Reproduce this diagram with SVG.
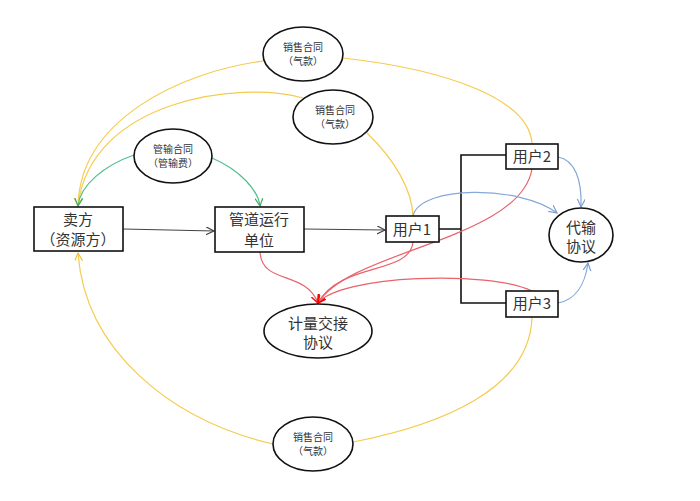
<svg xmlns="http://www.w3.org/2000/svg" width="700" height="501" viewBox="0 0 700 501">
<style>
.box{fill:#fff;stroke:#111;stroke-width:1.6}
.ell{fill:#fff;stroke:#111;stroke-width:1.6}
.t{font-family:"Noto Sans CJK SC","Liberation Sans",sans-serif;fill:#333;text-anchor:middle}
.big{font-size:15px}
.sm{font-size:10px}
.c{fill:none;stroke-width:1.2}
.y{stroke:#F5CB4E}
.g{stroke:#4DBE8C}
.r{stroke:#E8636B}
.b{stroke:#86A8D6}
.k{stroke:#444}
</style>
<defs>
<marker id="ak" markerWidth="10" markerHeight="10" refX="8" refY="4" orient="auto" markerUnits="userSpaceOnUse"><path d="M0,0 L8,4 L0,8" fill="none" stroke="#444" stroke-width="1.2"/></marker>
<marker id="ay" markerWidth="10" markerHeight="10" refX="8" refY="4" orient="auto" markerUnits="userSpaceOnUse"><path d="M0,0 L8,4 L0,8" fill="none" stroke="#F0C040" stroke-width="1.2"/></marker>
<marker id="ag" markerWidth="10" markerHeight="10" refX="8" refY="4" orient="auto" markerUnits="userSpaceOnUse"><path d="M0,0 L8,4 L0,8" fill="none" stroke="#3DB060" stroke-width="1.2"/></marker>
<marker id="ar" markerWidth="10" markerHeight="10" refX="8" refY="4" orient="auto" markerUnits="userSpaceOnUse"><path d="M0,0 L8,4 L0,8" fill="none" stroke="#F00" stroke-width="1.4"/></marker>
<marker id="ab" markerWidth="10" markerHeight="10" refX="8" refY="4" orient="auto" markerUnits="userSpaceOnUse"><path d="M0,0 L8,4 L0,8" fill="none" stroke="#7A9FD2" stroke-width="1.2"/></marker>
</defs>
<rect width="700" height="501" fill="#fff"/>
<g id="connectors">
<path class="c k" d="M123,229 L214,231" marker-end="url(#ak)"/>
<path class="c k" d="M304,229 L385,230" marker-end="url(#ak)"/>
<path fill="none" stroke="#111" stroke-width="1.6" d="M439,229 H461 M506,155 H461 V303 H506"/>
<path class="c y" d="M263,61 C180,72 80,120 78,206" marker-end="url(#ay)"/>
<path class="c y" d="M303,98 C240,80 90,100 78,206"/>
<path class="c y" d="M343,58 C450,70 530,100 532,144"/>
<path class="c y" d="M367,133 C395,160 412,190 413,216"/>
<path class="c y" d="M273,444 C170,420 85,350 78,253" marker-end="url(#ay)"/>
<path class="c y" d="M353,442 C440,425 530,390 532,317"/>
<path class="c g" d="M134,155 C105,165 80,185 78,206" marker-end="url(#ag)"/>
<path class="c g" d="M212,158 C240,170 258,190 260,206" marker-end="url(#ag)"/>
<path class="c r" d="M260,252 C262,285 305,270 318,303" marker-end="url(#ar)"/>
<path class="c r" d="M413,242 C410,275 340,262 318,303" marker-end="url(#ar)"/>
<path class="c r" d="M532,169 C520,240 350,250 318,303" marker-end="url(#ar)"/>
<path class="c r" d="M532,291 C490,270 340,275 318,303" marker-end="url(#ar)"/>
<path class="c b" d="M413,216 C420,185 520,185 557,213" marker-end="url(#ab)"/>
<path class="c b" d="M558,157 C575,160 582,180 581,207" marker-end="url(#ab)"/>
<path class="c b" d="M558,303 C575,300 585,285 588,263" marker-end="url(#ab)"/>
</g>
<g id="seller"><rect class="box" x="34" y="207" width="89" height="44"/><text class="t big" x="78" y="225">卖方</text><text class="t big" x="78" y="245">（资源方）</text></g>
<g id="pipeline"><rect class="box" x="215" y="207" width="89" height="45"/><text class="t big" x="259" y="225">管道运行</text><text class="t big" x="259" y="246">单位</text></g>
<g id="user1"><rect class="box" x="386" y="216" width="53" height="26"/><text class="t big" x="412" y="235">用户1</text></g>
<g id="user2"><rect class="box" x="506" y="144" width="52" height="25"/><text class="t big" x="532" y="162">用户2</text></g>
<g id="user3"><rect class="box" x="506" y="291" width="52" height="26"/><text class="t big" x="532" y="309">用户3</text></g>
<g id="daishu"><ellipse class="ell" cx="581" cy="235" rx="32" ry="27"/><text class="t big" x="581" y="233">代输</text><text class="t big" x="581" y="252">协议</text></g>
<g id="jiliang"><ellipse class="ell" cx="318" cy="331" rx="54" ry="27"/><text class="t big" x="318" y="329">计量交接</text><text class="t big" x="318" y="348">协议</text></g>
<g id="sales1"><ellipse class="ell" cx="303" cy="54" rx="40" ry="27"/><text class="t sm" x="303" y="51">销售合同</text><text class="t sm" x="303" y="65">（气款）</text></g>
<g id="sales2"><ellipse class="ell" cx="333" cy="117" rx="40" ry="27"/><text class="t sm" x="335" y="114">销售合同</text><text class="t sm" x="335" y="128">（气款）</text></g>
<g id="guanshu"><ellipse class="ell" cx="173" cy="156" rx="39" ry="27"/><text class="t sm" x="173" y="153">管输合同</text><text class="t sm" x="173" y="167">（管输费）</text></g>
<g id="sales3"><ellipse class="ell" cx="313" cy="444" rx="40" ry="27"/><text class="t sm" x="313" y="441">销售合同</text><text class="t sm" x="313" y="455">（气款）</text></g>
</svg>
